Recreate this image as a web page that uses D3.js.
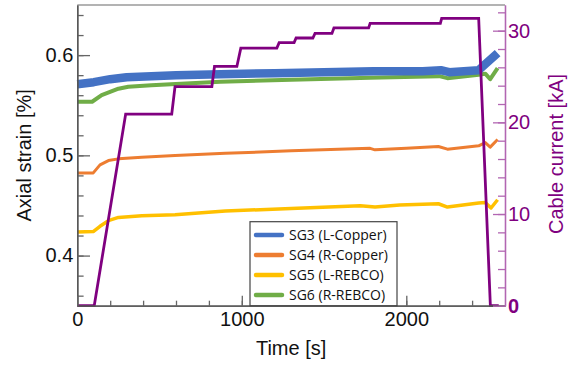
<!DOCTYPE html>
<html>
<head>
<meta charset="utf-8">
<script src="https://cdn.jsdelivr.net/npm/d3@7"></script>
<style>
  body { margin: 0; background: #fff; }
  svg { display: block; font-family: "Liberation Sans", Arial, sans-serif; }
  .legend text { font-family: "Open Sans", sans-serif; }
</style>
</head>
<body>
<div id="chart"></div>
<script>
// values
const seriesNames = ["SG3 (L-Copper)", "SG4 (R-Copper)", "SG5 (L-REBCO)", "SG6 (R-REBCO)"];
const seriesColors = ["#4472c4", "#ed7d31", "#ffc000", "#70ad47"];

const sg3Time   = [0, 100, 200, 300, 450, 600, 870, 1200, 1500, 1800, 2100, 2210, 2260, 2440, 2480, 2555];
const sg3Strain = [0.571, 0.573, 0.576, 0.578, 0.579, 0.580, 0.581, 0.582, 0.583, 0.584, 0.584, 0.585, 0.583, 0.585, 0.591, 0.602];

const sg4Time   = [0, 97, 138, 189, 250, 392, 594, 900, 1300, 1780, 1810, 2000, 2195, 2250, 2440, 2480, 2510, 2555];
const sg4Strain = [0.4823, 0.4825, 0.4905, 0.4948, 0.4965, 0.4982, 0.4998, 0.502, 0.5045, 0.507, 0.5055, 0.507, 0.5088, 0.5062, 0.5095, 0.5127, 0.5082, 0.5158];

const sg5Time   = [0, 97, 138, 189, 250, 392, 594, 900, 1300, 1720, 1810, 1960, 2195, 2250, 2440, 2480, 2515, 2555];
const sg5Strain = [0.4236, 0.424, 0.4292, 0.4348, 0.4381, 0.4398, 0.4408, 0.4445, 0.447, 0.4498, 0.4484, 0.4505, 0.4517, 0.4484, 0.4524, 0.453, 0.4475, 0.4557];

const sg6Time   = [0, 90, 148, 250, 310, 450, 870, 1300, 1780, 2200, 2250, 2440, 2480, 2510, 2555];
const sg6Strain = [0.5535, 0.5535, 0.560, 0.5665, 0.5685, 0.570, 0.5735, 0.5755, 0.5775, 0.579, 0.577, 0.5805, 0.5815, 0.576, 0.587];

const currentTime = [0, 103, 294, 574, 594, 818, 834, 970, 994, 1213, 1227, 1318, 1330, 1432, 1445, 1548, 1560, 1771, 1780, 2207, 2215, 2440, 2511, 2562];
const currentKA   = [0, 0, 20.9, 20.9, 23.9, 23.9, 26.1, 26.1, 28.1, 28.1, 28.7, 28.7, 29.2, 29.2, 29.7, 29.7, 30.3, 30.3, 30.8, 30.8, 31.35, 31.35, 0, 0];

const strainTicks = [0.4, 0.5, 0.6];
const timeTicks = [0, 1000, 2000];
const currentTicks = [0, 10, 20, 30];

const width = 568, height = 369;
const plot = { left: 77.3, right: 505, top: 5, bottom: 305.7 };
const purple = "#800080";

const svg = d3.select("#chart")
  .append("svg")
    .attr("width", width)
    .attr("height", height);

const x = d3.scaleLinear().domain([0, 2600]).range([plot.left, plot.right]);
const yL = d3.scaleLinear().domain([0.35, 0.65]).range([plot.bottom, plot.top]);
const yR = d3.scaleLinear().domain([0, 32.8]).range([plot.bottom, plot.top]);

// top frame line
svg.append("line")
  .attr("x1", plot.left).attr("x2", plot.right)
  .attr("y1", plot.top).attr("y2", plot.top)
  .attr("stroke", "#9a9a9a").attr("stroke-width", 1.3);

// strain curves
const strainLine = d3.line().x(d => x(d[0])).y(d => yL(d[1]));
const strainSeries = [
  { pts: d3.zip(sg4Time, sg4Strain), color: seriesColors[1], w: 3 },
  { pts: d3.zip(sg5Time, sg5Strain), color: seriesColors[2], w: 3.5 },
  { pts: d3.zip(sg6Time, sg6Strain), color: seriesColors[3], w: 4 },
  { pts: d3.zip(sg3Time, sg3Strain), color: seriesColors[0], w: 8.5 }
];
svg.append("g")
  .selectAll("path")
  .data(strainSeries)
  .join("path")
    .attr("fill", "none")
    .attr("stroke", d => d.color)
    .attr("stroke-width", d => d.w)
    .attr("stroke-linejoin", "round")
    .attr("d", d => strainLine(d.pts));

// cable current
svg.append("path")
  .datum(d3.zip(currentTime, currentKA))
  .attr("fill", "none")
  .attr("stroke", purple)
  .attr("stroke-width", 2.8)
  .attr("d", d3.line().x(d => x(d[0])).y(d => yR(d[1])));

// axes
const range = (a, b, s) => d3.range(a, b + s / 2, s);

const leftMinor = svg.append("g")
  .attr("transform", `translate(${plot.left},0)`)
  .call(d3.axisLeft(yL).tickValues(range(0.36, 0.64, 0.02)).tickFormat("").tickSize(-6.3).tickSizeOuter(0));
const leftMajor = svg.append("g")
  .attr("transform", `translate(${plot.left},0)`)
  .call(d3.axisLeft(yL).tickValues(strainTicks).tickFormat(d3.format(".1f")).tickSize(-12.7).tickSizeOuter(0).tickPadding(4));

const bottomMinor = svg.append("g")
  .attr("transform", `translate(0,${plot.bottom})`)
  .call(d3.axisBottom(x).tickValues(range(200, 2400, 200)).tickFormat("").tickSize(-5).tickSizeOuter(0));
const bottomMajor = svg.append("g")
  .attr("transform", `translate(0,${plot.bottom})`)
  .call(d3.axisBottom(x).tickValues(timeTicks).tickFormat(d3.format("d")).tickSize(-10).tickSizeOuter(0).tickPadding(6));

const rightMinor = svg.append("g")
  .attr("transform", `translate(${plot.right},0)`)
  .call(d3.axisRight(yR).tickValues(range(2, 32, 2)).tickFormat("").tickSize(-7).tickSizeOuter(0));
const rightMajor = svg.append("g")
  .attr("transform", `translate(${plot.right},0)`)
  .call(d3.axisRight(yR).tickValues(currentTicks).tickFormat(d3.format("d")).tickSize(-12).tickSizeOuter(0).tickPadding(3));

[leftMinor, leftMajor, bottomMinor, bottomMajor].forEach(g => {
  g.select(".domain").attr("stroke", "#555").attr("stroke-width", 1.3);
  g.selectAll(".tick line").attr("stroke", "#666").attr("stroke-width", 1.3);
  g.selectAll(".tick text").attr("fill", "#111").attr("font-size", 20).attr("font-family", "Liberation Sans, Arial, sans-serif");
});
[rightMinor, rightMajor].forEach(g => {
  g.select(".domain").attr("stroke", "#b266b2").attr("stroke-width", 1.3);
  g.selectAll(".tick line").attr("stroke", "#b266b2").attr("stroke-width", 1.3);
  g.selectAll(".tick text").attr("fill", purple).attr("font-size", 20).attr("font-family", "Liberation Sans, Arial, sans-serif");
});
rightMajor.selectAll(".tick text").filter(d => d === 0).attr("font-weight", "bold");

// axis titles
svg.append("text")
  .attr("transform", `translate(31,${(plot.top + plot.bottom) / 2}) rotate(-90)`)
  .attr("text-anchor", "middle")
  .attr("font-size", 20)
  .attr("fill", "#111")
  .text("Axial strain [%]");

svg.append("text")
  .attr("transform", `translate(563,154) rotate(-90)`)
  .attr("text-anchor", "middle")
  .attr("font-size", 20)
  .attr("fill", purple)
  .text("Cable current [kA]");

svg.append("text")
  .attr("x", (plot.left + plot.right) / 2)
  .attr("y", 355)
  .attr("text-anchor", "middle")
  .attr("font-size", 20)
  .attr("fill", "#111")
  .text("Time [s]");

// legend
const legend = svg.append("g").attr("class", "legend");
legend.append("rect")
  .attr("x", 250).attr("y", 221.7)
  .attr("width", 147).attr("height", plot.bottom - 221.7)
  .attr("fill", "#fff").attr("stroke", "#444").attr("stroke-width", 1.2);

const rows = legend.selectAll("g.row")
  .data(seriesNames)
  .join("g")
    .attr("class", "row")
    .attr("transform", (d, i) => `translate(0,${235 + i * 20})`);
rows.append("line")
  .attr("x1", 256).attr("x2", 282)
  .attr("stroke", (d, i) => seriesColors[i])
  .attr("stroke-width", 4.5)
  .attr("stroke-linecap", "round");
rows.append("text")
  .attr("x", 289)
  .attr("dy", "0.35em")
  .attr("font-size", 14)
  .attr("fill", "#111")
  .text(d => d);
</script>
</body>
</html>
